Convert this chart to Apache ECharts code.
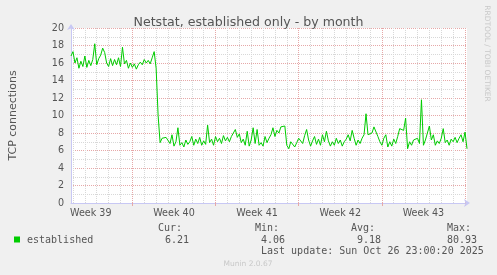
<!DOCTYPE html>
<html>
<head>
<meta charset="utf-8">
<script src="https://cdn.jsdelivr.net/npm/echarts@6/dist/echarts.min.js"></script>
<style>
html,body{margin:0;padding:0;background:#f0f0f0;}
#c{width:497px;height:275px;}
</style>
</head>
<body>
<div id="c"></div>
<script>
// ---- data ----
const title = 'Netstat, established only - by month';
const yAxisName = 'TCP connections';
const seriesName = 'established';
// one sample every ~4 hours, from left edge of plot to right edge
const established = [
  16.8,17.3,16.0,16.6,15.4,16.2,15.6,16.8,15.5,16.3,
  15.7,16.4,18.2,15.8,16.5,16.9,17.7,17.2,16.0,15.6,
  16.5,15.7,16.4,15.8,16.6,15.6,17.8,15.9,16.3,15.4,
  16.0,15.5,15.9,15.3,15.8,16.1,15.8,16.4,16.0,16.3,
  15.9,16.6,17.3,15.4,10.0,
  6.9,7.4,7.6,7.5,7.7,6.8,7.8,6.5,7.0,8.6,
  6.6,6.9,6.4,7.2,6.7,7.0,7.6,6.6,7.3,6.8,
  7.5,6.6,7.1,6.7,8.9,6.9,7.3,6.6,7.6,7.0,
  7.4,6.8,7.7,7.1,7.5,7.0,7.6,8.0,8.4,7.5,
  7.9,6.9,7.3,6.6,8.2,6.5,7.2,8.6,6.8,8.4,
  6.6,6.9,6.5,7.6,6.9,7.4,7.8,8.6,7.6,8.3,
  8.0,8.7,8.5,8.8,6.6,6.2,7.0,7.2,6.4,6.9,
  7.4,7.6,6.8,7.7,8.4,7.2,6.5,7.1,7.6,6.7,
  7.3,6.6,7.8,7.0,8.2,7.1,6.5,7.0,6.6,7.4,
  6.8,7.2,6.5,7.0,7.3,7.8,7.1,8.3,7.4,6.6,
  7.2,6.8,7.4,7.8,10.2,7.8,7.6,8.0,8.7,8.9,
  7.6,7.0,6.6,7.4,7.8,6.4,7.0,6.5,7.3,6.8,
  7.6,8.5,8.7,8.3,9.7,6.2,7.0,6.6,7.2,7.0,
  7.4,6.8,11.8,6.6,7.2,7.0,8.8,7.2,7.8,6.6,
  7.1,6.8,7.4,8.5,6.9,7.2,6.6,7.3,7.0,7.5,
  6.9,7.4,7.8,7.0,8.1,6.2
];
const weekLabels = ['Week 39','Week 40','Week 41','Week 42','Week 43'];
const yTicks = [0,2,4,6,8,10,12,14,16,18,20];
const legendHeaders = ['Cur:','Min:','Avg:','Max:'];
const legendValues = ['6.21','4.06','9.18','80.93'];
const lastUpdate = 'Last update: Sun Oct 26 23:00:20 2025';
const footer = 'Munin 2.0.67';
const sideText = 'RRDTOOL / TOBI OETIKER';

// ---- axis structure ----
const SAMPLES_PER_DAY = 6;
const FIRST_SAMPLE_OFFSET = 11;   // samples since Monday of week 39
const steps = established.map((_, i) => String(i));
const dayPos = i => (FIRST_SAMPLE_OFFSET + i) / SAMPLES_PER_DAY;
const isDay = i => (FIRST_SAMPLE_OFFSET + i) % SAMPLES_PER_DAY === 0;
const isWeek = i => (FIRST_SAMPLE_OFFSET + i) % (SAMPLES_PER_DAY * 7) === 0;
const weekLabelAt = i => {
  const d = dayPos(i);
  const w = Math.floor(d / 7);
  return (Math.abs(d - (w * 7 + 3.5)) < 1e-9 && w < weekLabels.length) ? weekLabels[w] : null;
};

const gray = '#d8d8d8', red = '#e6a8a8', axisCol = '#c8c8f4', txt = '#555';
const mono = '"DejaVu Sans Mono", monospace';

const chart = echarts.init(document.getElementById('c'), null, {renderer: 'canvas'});
const legendX = [158, 255, 351, 447];
const valueX = [165, 261, 357, 447];
const graphics = [
  {type:'rect', shape:{x:14, y:236.5, width:6, height:6}, style:{fill:'#00cc00'}},
  {type:'text', x:27, y:240, style:{text:seriesName, font:'10px ' + mono, fill:txt, verticalAlign:'middle'}},
  {type:'text', x:261, y:251.5, style:{text:lastUpdate, font:'10px ' + mono, fill:txt, verticalAlign:'middle'}},
  {type:'text', x:248, y:264.5, style:{text:footer, font:'7.5px "DejaVu Sans"', fill:'#c8c8c8', align:'center', verticalAlign:'middle'}},
  {type:'text', x:487, y:53.5, rotation:-Math.PI/2, style:{text:sideText, font:'7.5px "DejaVu Sans"', fill:'#c8c8c8', align:'center', verticalAlign:'middle'}}
];
legendHeaders.forEach((h, k) => {
  graphics.push({type:'text', x:legendX[k], y:228.5, style:{text:h, font:'10px ' + mono, fill:txt, verticalAlign:'middle'}});
  graphics.push({type:'text', x:valueX[k], y:240, style:{text:legendValues[k], font:'10px ' + mono, fill:txt, verticalAlign:'middle'}});
});

chart.setOption({
  backgroundColor: '#f0f0f0',
  animation: false,
  title: {
    text: title, left: 'center', top: 11,
    textStyle: {fontFamily: 'DejaVu Sans', fontSize: 12.6, fontWeight: 'normal', color: txt}
  },
  grid: {left: 67, right: 30, top: 28, bottom: 72, show: true, backgroundColor: '#ffffff', borderWidth: 0},
  xAxis: [
    {
      type: 'category', data: steps, boundaryGap: false,
      axisLine: {show: true, lineStyle: {color: axisCol, width: 1}, symbol: ['none','arrow'], symbolSize: [6,6], symbolOffset: [0, 3]},
      axisTick: {show: false},
      axisLabel: {
        interval: (i) => weekLabelAt(i) !== null,
        formatter: (v) => weekLabelAt(Number(v)) || '',
        fontFamily: 'DejaVu Sans', fontSize: 9.6, color: txt, margin: 5
      },
      splitLine: {show: true, interval: (i) => isDay(i) && !isWeek(i), lineStyle: {color: gray, type: [1,1], width: 1}}
    },
    {
      type: 'category', data: steps, boundaryGap: false, position: 'bottom',
      axisLine: {show: false},
      axisLabel: {show: false},
      axisTick: {show: true, interval: (i) => isWeek(i), length: 3, lineStyle: {color: red}},
      splitLine: {show: true, interval: (i) => isWeek(i), lineStyle: {color: red, type: [1,1], width: 1}}
    }
  ],
  yAxis: {
    type: 'value', min: yTicks[0], max: yTicks[yTicks.length - 1], interval: 2,
    name: yAxisName, nameLocation: 'middle', nameGap: 52, nameRotate: 90,
    nameTextStyle: {fontFamily: 'DejaVu Sans', fontSize: 11, color: txt},
    axisLine: {show: true, lineStyle: {color: axisCol, width: 1}, symbol: ['none','arrow'], symbolSize: [6,6], symbolOffset: [0, 4]},
    axisTick: {show: false},
    axisLabel: {fontFamily: 'DejaVu Sans', fontSize: 9.6, color: txt, margin: 7},
    splitLine: {show: true, lineStyle: {color: red, type: [1,1], width: 1}},
    minorTick: {show: false, splitNumber: 2},
    minorSplitLine: {show: true, lineStyle: {color: gray, type: [1,1], width: 1}}
  },
  series: [{
    name: seriesName, type: 'line', data: established, xAxisIndex: 0,
    showSymbol: false, symbol: 'none',
    lineStyle: {color: '#00cc00', width: 1},
    itemStyle: {color: '#00cc00'}
  }],
  graphic: graphics
});
</script>
</body>
</html>
